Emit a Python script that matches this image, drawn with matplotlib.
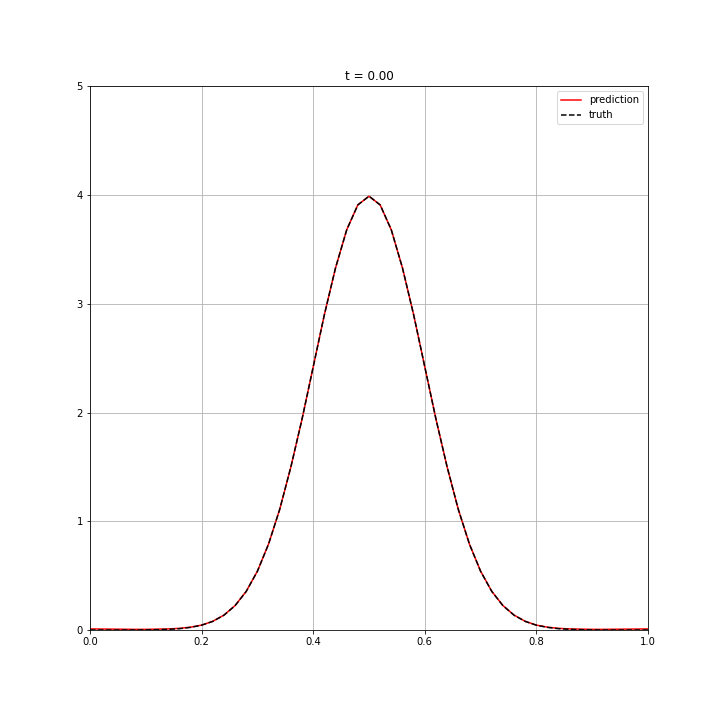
import numpy as np
import matplotlib
matplotlib.use('Agg')
import matplotlib.pyplot as plt

# grid points, 0.00 to 1.00 step 0.02
x = [i / 50 for i in range(51)]

# values
truth = [0.000, 0.000, 0.000, 0.000, 0.000, 0.001, 0.003, 0.006, 0.012, 0.024,
         0.044, 0.079, 0.136, 0.224, 0.355, 0.540, 0.790, 1.110, 1.500, 1.940,
         2.420, 2.900, 3.330, 3.680, 3.910, 3.990, 3.910, 3.680, 3.330, 2.900,
         2.420, 1.940, 1.500, 1.110, 0.790, 0.540, 0.355, 0.224, 0.136, 0.079,
         0.044, 0.024, 0.012, 0.006, 0.003, 0.001, 0.000, 0.000, 0.000, 0.000,
         0.000]
prediction = [0.010, 0.009, 0.008, 0.007, 0.006, 0.006, 0.008, 0.010, 0.015, 0.026,
              0.045, 0.080, 0.137, 0.225, 0.356, 0.541, 0.791, 1.110, 1.500, 1.940,
              2.420, 2.900, 3.330, 3.680, 3.910, 3.990, 3.910, 3.680, 3.330, 2.900,
              2.420, 1.940, 1.500, 1.110, 0.790, 0.541, 0.356, 0.225, 0.137, 0.080,
              0.045, 0.026, 0.015, 0.010, 0.008, 0.006, 0.006, 0.007, 0.008, 0.009,
              0.010]

fig, ax = plt.subplots(figsize=(10, 10), dpi=72)
fig.subplots_adjust(left=0.125, right=0.9, top=0.88, bottom=0.125)
ax.plot(x, prediction, color='red', label='prediction')
ax.plot(x, truth, color='black', linestyle='--', label='truth')
ax.set_xlim(0, 1)
ax.set_ylim(0, 5)
ax.set_title('t = 0.00')
ax.grid(True)
ax.legend(loc='upper right')

plt.savefig('out.png')
